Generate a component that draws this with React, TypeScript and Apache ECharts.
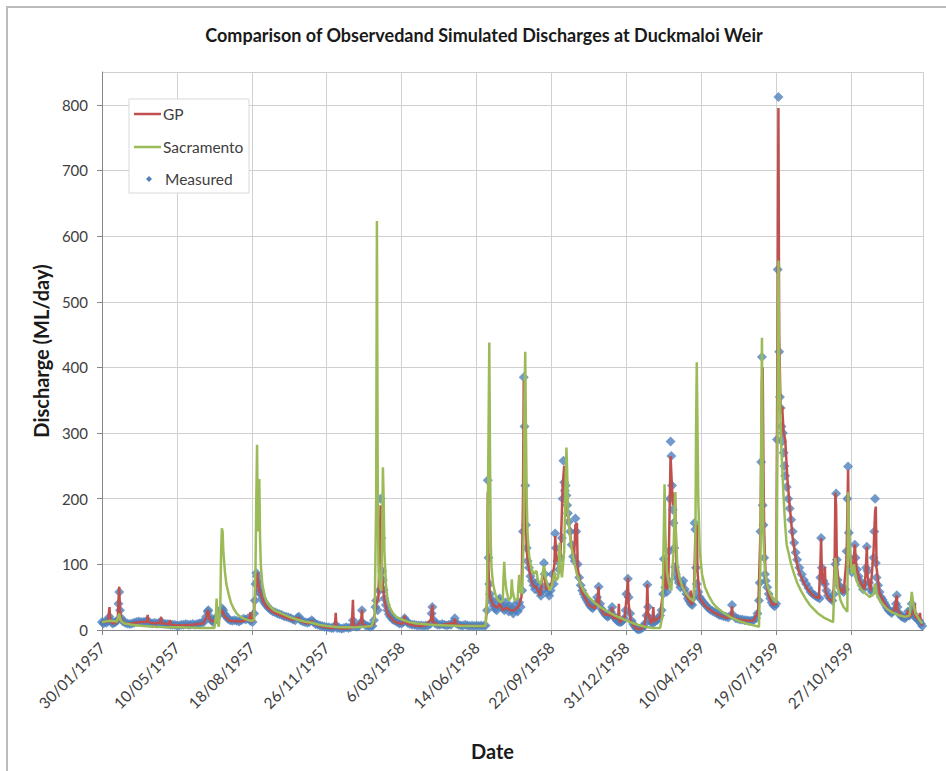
import React, { useEffect, useRef } from "react";
import * as echarts from "echarts";

// Day index 0 = 30/01/1957
const startDate = Date.UTC(1957, 0, 30);
const xTickStep = 100;
const yTicks = [0, 100, 200, 300, 400, 500, 600, 700, 800];

const measured: [number, number][] = [
  [0,12],[2,10],[4,13],[6,11],[8,14],[10,20],[12,13],[14,10],[16,11],[18,12],[20,14],[22,40],[23,58],[24,30],[26,18],[28,13],[31,11],[34,10],[37,9],[40,10],[43,11],[46,12],[49,13],[52,12],[55,12],[58,13],[61,14],[64,11],[67,10],[70,11],[73,10],[76,11],[79,12],[82,10],[85,9],[88,9],[91,8],[94,8],[97,8],[100,7],[103,7],[106,8],[109,8],[112,9],[115,8],[118,8],[121,9],[124,8],[127,9],[130,10],[133,11],[136,12],[139,20],[141,28],[142,30],[144,20],[146,15],[148,12],[150,14],[152,18],[155,22],[158,28],[160,33],[162,30],[164,24],[166,20],[168,17],[171,15],[174,14],[177,15],[180,14],[183,13],[186,15],[189,17],[192,16],[195,18],[198,14],[201,12],[203,25],[204,45],[205,70],[206,87],[207,82],[208,75],[209,70],[210,63],[211,58],[212,54],[214,48],[216,43],[218,40],[220,37],[222,34],[225,31],[228,28],[231,27],[234,25],[237,24],[240,23],[243,21],[246,20],[249,19],[252,18],[255,16],[258,15],[261,19],[263,20],[265,15],[268,13],[271,12],[274,11],[277,12],[280,15],[282,12],[285,9],[288,8],[291,7],[294,6],[297,5],[300,4],[303,4],[306,3],[309,3],[312,8],[314,3],[317,3],[320,2],[323,3],[326,4],[329,3],[332,4],[335,15],[337,6],[340,5],[343,6],[346,12],[347,30],[349,10],[352,7],[355,6],[358,5],[361,6],[363,15],[365,35],[366,45],[368,30],[370,60],[372,200],[373,140],[374,90],[375,76],[376,61],[377,48],[379,38],[381,30],[383,24],[385,20],[388,16],[391,14],[394,12],[397,10],[400,10],[402,12],[404,18],[406,14],[408,11],[411,9],[414,8],[417,8],[420,7],[423,7],[426,7],[429,6],[432,7],[435,7],[438,9],[440,25],[441,35],[443,15],[445,10],[448,8],[451,8],[454,9],[457,8],[460,7],[463,8],[466,8],[469,12],[471,18],[473,10],[476,8],[479,7],[482,7],[485,8],[488,7],[491,6],[494,7],[497,6],[500,7],[503,6],[506,7],[509,6],[512,7],[514,30],[515,228],[516,110],[517,70],[518,55],[519,48],[521,42],[523,36],[525,32],[527,30],[529,45],[531,48],[533,40],[535,34],[537,30],[539,42],[541,35],[543,28],[545,36],[547,30],[549,25],[551,38],[553,30],[555,28],[557,42],[559,35],[561,60],[562,150],[563,385],[564,310],[565,220],[566,160],[567,125],[568,105],[570,95],[572,82],[574,75],[576,68],[578,62],[580,72],[582,65],[584,58],[586,52],[588,60],[590,102],[591,85],[593,68],[595,58],[597,52],[599,60],[601,85],[603,70],[605,147],[606,125],[608,105],[610,92],[612,110],[614,140],[615,200],[616,258],[617,225],[618,212],[619,220],[620,205],[621,190],[622,178],[623,165],[625,150],[627,130],[629,112],[631,105],[632,170],[633,150],[635,100],[637,80],[639,68],[641,60],[643,55],[645,50],[647,46],[649,42],[651,38],[653,35],[655,33],[657,36],[659,40],[661,50],[663,66],[665,40],[667,32],[669,28],[671,25],[673,22],[675,20],[677,22],[679,28],[681,35],[683,22],[685,18],[687,15],[689,13],[691,12],[693,12],[695,14],[697,18],[699,30],[700,55],[702,78],[703,50],[705,25],[707,14],[709,9],[711,6],[713,3],[715,1],[717,1],[719,2],[721,3],[723,5],[725,10],[727,22],[728,69],[729,35],[731,18],[733,12],[735,10],[737,12],[739,14],[741,15],[743,18],[745,22],[747,30],[749,55],[750,108],[751,80],[752,65],[754,58],[756,75],[757,120],[758,200],[759,287],[760,265],[761,220],[762,183],[763,163],[764,125],[765,96],[766,85],[768,78],[770,72],[772,65],[774,70],[776,75],[778,62],[780,55],[782,48],[784,44],[786,40],[788,38],[790,50],[791,163],[792,153],[793,95],[794,70],[796,58],[798,50],[800,46],[803,42],[806,38],[809,34],[812,31],[815,29],[818,27],[821,25],[824,23],[827,22],[830,21],[833,20],[836,19],[839,22],[841,38],[843,22],[846,18],[849,17],[852,16],[855,16],[858,15],[861,15],[864,14],[867,14],[870,15],[873,18],[875,25],[877,45],[878,72],[879,150],[880,256],[881,416],[882,190],[883,160],[884,110],[885,85],[886,75],[888,65],[890,55],[892,48],[894,42],[896,38],[898,36],[900,40],[901,290],[902,549],[903,812],[904,424],[905,355],[906,338],[907,310],[908,287],[909,300],[910,270],[911,250],[912,235],[914,218],[916,200],[918,185],[920,168],[922,150],[924,133],[926,118],[928,107],[931,95],[934,85],[937,76],[940,70],[943,64],[946,58],[949,55],[952,52],[955,50],[958,48],[959,80],[960,140],[961,95],[963,75],[965,70],[967,60],[969,52],[972,48],[975,45],[977,55],[979,100],[980,208],[981,107],[982,76],[984,68],[986,64],[988,60],[990,58],[992,62],[994,120],[995,200],[996,249],[997,148],[998,111],[999,95],[1001,88],[1003,100],[1005,130],[1006,110],[1008,92],[1010,82],[1012,75],[1014,68],[1016,62],[1018,70],[1020,95],[1021,127],[1022,90],[1024,72],[1026,62],[1028,58],[1030,110],[1031,150],[1032,200],[1033,102],[1034,80],[1036,68],[1038,58],[1040,50],[1042,46],[1044,42],[1046,38],[1048,34],[1050,30],[1052,28],[1054,26],[1056,28],[1058,30],[1060,40],[1061,53],[1062,35],[1064,26],[1066,22],[1068,20],[1070,19],[1072,18],[1074,20],[1076,28],[1078,22],[1080,30],[1081,40],[1083,25],[1085,20],[1087,18],[1089,16],[1091,14],[1093,10],[1095,6]
];

const gp: [number, number][] = [
  [0,12],[5,12],[8,13],[10,35],[11,14],[14,10],[18,11],[21,13],[22,45],[23,66],[24,30],[26,15],[30,10],[40,10],[50,12],[58,12],[60,13],[61,23],[62,12],[70,10],[77,11],[79,20],[80,10],[89,9],[91,15],[92,8],[100,7],[120,8],[135,10],[139,18],[141,30],[142,28],[144,15],[150,13],[160,30],[163,22],[170,14],[185,13],[195,16],[197,20],[198,27],[199,13],[202,14],[205,60],[207,88],[208,76],[210,62],[215,44],[220,35],[230,26],[245,19],[255,15],[262,19],[266,13],[275,10],[280,14],[284,9],[295,5],[305,3],[310,3],[311,8],[312,26],[313,4],[320,2],[333,3],[334,20],[335,46],[336,6],[340,5],[346,15],[347,31],[348,9],[355,5],[362,7],[366,40],[369,50],[372,190],[374,80],[377,45],[381,25],[390,13],[400,9],[403,14],[404,22],[405,11],[415,7],[430,6],[439,15],[441,38],[442,12],[450,7],[470,11],[471,17],[473,8],[490,6],[512,6],[514,40],[515,210],[516,90],[518,50],[522,38],[528,34],[531,40],[535,30],[540,34],[545,30],[550,30],[556,36],[560,50],[562,200],[563,380],[564,300],[565,200],[567,120],[570,92],[575,68],[580,65],[585,52],[590,95],[593,62],[600,70],[604,100],[605,143],[607,105],[612,110],[615,220],[617,250],[619,230],[622,175],[626,135],[630,105],[632,160],[634,163],[635,95],[640,60],[650,38],[658,33],[662,50],[663,66],[664,36],[670,24],[680,22],[681,35],[682,18],[689,18],[690,40],[691,11],[698,20],[701,60],[702,80],[703,40],[706,14],[712,3],[718,1],[724,5],[727,30],[728,70],[729,25],[733,10],[735,20],[736,35],[737,13],[745,20],[749,60],[751,110],[753,62],[756,70],[758,200],[759,265],[760,240],[762,190],[765,210],[767,92],[770,70],[776,68],[780,52],[785,42],[786,60],[787,38],[790,48],[792,140],[794,160],[795,88],[798,48],[805,37],[815,28],[825,22],[835,18],[840,24],[841,36],[842,18],[855,15],[870,14],[876,30],[879,150],[881,380],[882,400],[883,250],[884,150],[886,78],[890,52],[895,38],[900,40],[901,280],[902,500],[903,795],[904,450],[906,330],[908,340],[910,300],[912,290],[913,271],[915,230],[918,190],[922,140],[926,110],[930,90],[936,74],[942,62],[950,52],[957,48],[959,100],[960,140],[961,85],[963,70],[964,80],[965,96],[966,58],[970,48],[976,43],[978,100],[979,209],[980,190],[981,100],[984,66],[990,56],[994,110],[996,244],[997,150],[999,95],[1003,100],[1005,130],[1007,95],[1012,74],[1018,62],[1020,100],[1021,127],[1022,82],[1026,60],[1030,120],[1032,180],[1033,188],[1034,95],[1038,56],[1045,40],[1052,28],[1058,30],[1060,45],[1061,53],[1062,30],[1068,20],[1074,20],[1076,30],[1078,20],[1083,26],[1085,40],[1086,20],[1090,16],[1092,26],[1093,11],[1095,7]
];

const sacramento: [number, number][] = [
  [0,12],[10,14],[20,13],[23,25],[25,14],[30,10],[40,8],[55,6],[70,5],[90,4],[110,4],[130,3],[150,3],[152,20],[153,48],[154,15],[156,5],[158,40],[159,120],[160,155],[161,150],[162,120],[164,90],[166,70],[169,55],[172,42],[176,32],[180,25],[185,20],[190,17],[195,15],[200,14],[203,15],[205,100],[206,200],[207,282],[208,150],[209,200],[210,230],[211,140],[212,100],[214,70],[217,52],[220,43],[225,35],[230,30],[240,25],[250,20],[260,16],[270,13],[280,11],[290,8],[300,6],[310,5],[320,4],[335,4],[350,5],[360,6],[364,20],[366,200],[367,623],[368,250],[369,100],[371,65],[373,60],[374,150],[375,248],[376,200],[377,120],[379,70],[381,48],[384,35],[388,26],[393,20],[400,16],[410,12],[420,10],[440,8],[460,7],[480,6],[500,6],[512,6],[514,50],[516,300],[517,438],[518,260],[519,130],[520,95],[522,70],[525,55],[528,47],[532,42],[535,45],[536,80],[537,104],[538,80],[540,60],[543,45],[546,50],[547,77],[548,60],[551,45],[555,48],[556,70],[557,84],[558,60],[561,55],[563,150],[564,350],[565,424],[566,300],[567,200],[568,150],[570,115],[573,95],[576,85],[580,90],[582,75],[586,70],[588,85],[590,98],[592,80],[595,68],[598,60],[601,70],[604,88],[606,75],[609,80],[611,133],[612,100],[614,80],[617,120],[619,230],[620,278],[621,240],[622,180],[624,150],[627,125],[630,105],[634,85],[638,72],[643,60],[650,50],[657,42],[665,35],[675,28],[685,22],[695,17],[705,12],[715,8],[725,5],[735,3],[745,3],[748,20],[750,150],[751,222],[752,150],[754,90],[757,70],[760,60],[763,120],[765,210],[766,150],[768,100],[771,80],[775,65],[780,55],[785,48],[790,44],[792,100],[793,300],[794,408],[795,300],[796,200],[798,120],[801,85],[805,65],[810,52],[815,42],[820,35],[830,26],[840,19],[850,14],[860,10],[870,7],[877,5],[879,100],[880,300],[881,445],[882,250],[883,140],[885,90],[888,68],[892,55],[896,47],[900,42],[901,150],[902,350],[903,563],[904,420],[906,300],[908,250],[910,200],[912,160],[914,130],[917,115],[920,100],[924,85],[928,72],[933,60],[939,48],[945,38],[955,26],[965,18],[976,12],[978,80],[979,110],[980,100],[982,65],[986,45],[990,35],[995,28],[996,210],[997,160],[999,110],[1001,85],[1004,100],[1006,80],[1010,68],[1015,60],[1020,55],[1025,50],[1030,55],[1032,70],[1034,55],[1040,42],[1048,32],[1056,26],[1065,22],[1072,20],[1078,22],[1080,45],[1081,58],[1083,40],[1086,25],[1090,18],[1095,10]
];

const FONT = 'Lato, "Open Sans", "DejaVu Sans", sans-serif';
const RED = "#C0504D";
const GREEN = "#9BBB59";
const BLUE = "#4F81BD";

function dayLabel(d: number): string {
  const dt = new Date(startDate + Math.round(d) * 86400000);
  const dd = dt.getUTCDate();
  const mm = dt.getUTCMonth() + 1;
  return `${dd}/${mm < 10 ? "0" + mm : mm}/${dt.getUTCFullYear()}`;
}

export default function App() {
  const ref = useRef<HTMLDivElement>(null);
  useEffect(() => {
    if (!ref.current) return;
    const chart = echarts.init(ref.current, null, { renderer: "svg" });
    chart.setOption({
      animation: false,
      backgroundColor: "#ffffff",
      title: {
        text: "Comparison of Observedand Simulated Discharges at Duckmaloi Weir",
        left: 479,
        top: 21,
        textAlign: "center",
        textStyle: { fontFamily: FONT, fontSize: 18, fontWeight: "bold", color: "#1a1a1a" },
      },
      grid: { left: 102, right: 23, top: 72, bottom: 141, show: false },
      xAxis: {
        type: "value",
        min: 0,
        max: 1096,
        interval: xTickStep,
        name: "Date",
        nameLocation: "middle",
        nameGap: 111,
        nameTextStyle: { fontFamily: FONT, fontSize: 20, fontWeight: "bold", color: "#1a1a1a", padding: [0, 40, 0, 0] },
        axisLine: { show: true, lineStyle: { color: "#868686", width: 1 } },
        axisTick: { show: true, length: 5, lineStyle: { color: "#868686" } },
        axisLabel: {
          rotate: 45,
          margin: 15,
          padding: [12, 0, 0, 0],
          showMaxLabel: false,
          fontFamily: FONT,
          fontSize: 15.5,
          color: "#404040",
          formatter: (v: number) => dayLabel(v),
        },
        splitLine: { show: true, lineStyle: { color: "#d0d0d0", width: 1 } },
      },
      yAxis: {
        type: "value",
        min: 0,
        max: 850,
        interval: 100,
        name: "Discharge (ML/day)",
        nameLocation: "middle",
        nameGap: 50,
        nameTextStyle: { fontFamily: FONT, fontSize: 20, fontWeight: "bold", color: "#1a1a1a" },
        axisLine: { show: true, lineStyle: { color: "#868686", width: 1 } },
        axisTick: { show: true, length: 5, lineStyle: { color: "#868686" } },
        axisLabel: {
          margin: 14,
          showMaxLabel: false,
          fontFamily: FONT,
          fontSize: 15,
          color: "#404040",
          formatter: (v: number) => (yTicks.indexOf(v) >= 0 ? String(v) : ""),
        },
        splitLine: { show: true, lineStyle: { color: "#d0d0d0", width: 1 } },
      },
      series: [
        {
          name: "GP",
          type: "line",
          data: gp,
          symbol: "none",
          lineStyle: { color: RED, width: 2.5 },
          itemStyle: { color: RED },
        },
        {
          name: "Sacramento",
          type: "line",
          data: sacramento,
          symbol: "none",
          lineStyle: { color: GREEN, width: 2.5 },
          itemStyle: { color: GREEN },
        },
        {
          name: "Measured",
          type: "scatter",
          data: measured,
          symbol: "diamond",
          symbolSize: 10,
          itemStyle: { color: BLUE },
        },
      ],
      graphic: [
        {
          type: "rect",
          shape: { x: 7, y: 7, width: 1000, height: 1000 },
          style: { fill: "none", stroke: "#bcbcbc", lineWidth: 2 },
          silent: true,
          z: 0,
        },
        {
          type: "rect",
          shape: { x: 129, y: 99, width: 120, height: 94 },
          style: { fill: "#ffffff", stroke: "#d9d9d9", lineWidth: 1 },
          z: 100,
        },
        {
          type: "line",
          shape: { x1: 134, y1: 114, x2: 161, y2: 114 },
          style: { stroke: RED, lineWidth: 2.5 },
          z: 101,
        },
        {
          type: "text",
          x: 163,
          y: 114,
          style: { text: "GP", fontFamily: FONT, fontSize: 15.5, fill: "#404040", verticalAlign: "middle" },
          z: 101,
        },
        {
          type: "line",
          shape: { x1: 134, y1: 147, x2: 161, y2: 147 },
          style: { stroke: GREEN, lineWidth: 2.5 },
          z: 101,
        },
        {
          type: "text",
          x: 163,
          y: 147,
          style: { text: "Sacramento", fontFamily: FONT, fontSize: 15.5, fill: "#404040", verticalAlign: "middle" },
          z: 101,
        },
        {
          type: "polygon",
          shape: { points: [[149, 176], [152, 179], [149, 182], [146, 179]] },
          style: { fill: BLUE },
          z: 101,
        },
        {
          type: "text",
          x: 165,
          y: 179,
          style: { text: "Measured", fontFamily: FONT, fontSize: 15.5, fill: "#404040", verticalAlign: "middle" },
          z: 101,
        },
      ],
    });
    return () => chart.dispose();
  }, []);
  return (
    <div
      ref={ref}
      style={{ position: "fixed", left: 0, top: 0, width: 946, height: 771, background: "#fff" }}
    />
  );
}
